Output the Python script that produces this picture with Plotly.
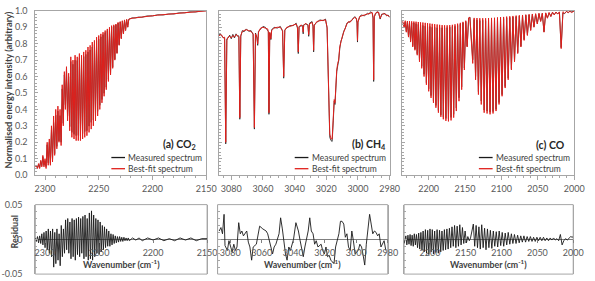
import plotly.graph_objects as go

# ---------------- data: (a) CO2 ----------------
co2_wn = [2309, 2308, 2307, 2306, 2305, 2304, 2303, 2302, 2301, 2300,
          2299, 2298, 2297, 2296, 2295, 2294, 2293, 2292, 2291, 2290,
          2289, 2288, 2287, 2286, 2285, 2284, 2283, 2282, 2281, 2280,
          2279, 2278, 2277, 2276, 2275, 2274, 2273, 2272, 2271, 2270,
          2269, 2268, 2267, 2266, 2265, 2264, 2263, 2262, 2261, 2260,
          2259, 2258, 2257, 2256, 2255, 2254, 2253, 2252, 2251, 2250,
          2249, 2248, 2247, 2246, 2245, 2244, 2243, 2242, 2241, 2240,
          2239, 2238, 2237, 2236, 2235, 2234, 2233, 2232, 2231, 2230,
          2229, 2228, 2227, 2226, 2225, 2224, 2223, 2222,
          2219, 2216, 2213, 2210, 2205, 2200, 2195, 2190, 2185, 2180, 2175, 2170, 2165, 2160, 2155, 2150]
co2_fit = [0.05, 0.06, 0.04, 0.07, 0.04, 0.09, 0.05, 0.12, 0.05, 0.10,
           0.04, 0.20, 0.06, 0.22, 0.06, 0.30, 0.08, 0.36, 0.12, 0.40,
           0.16, 0.42, 0.20, 0.40, 0.18, 0.55, 0.30, 0.63, 0.40, 0.66,
           0.33, 0.62, 0.27, 0.72, 0.23, 0.70, 0.22, 0.73, 0.21, 0.72,
           0.21, 0.74, 0.21, 0.73, 0.22, 0.75, 0.23, 0.76, 0.24, 0.78,
           0.26, 0.79, 0.28, 0.81, 0.30, 0.82, 0.33, 0.84, 0.36, 0.85,
           0.40, 0.86, 0.44, 0.87, 0.48, 0.88, 0.52, 0.89, 0.57, 0.90,
           0.61, 0.91, 0.65, 0.915, 0.70, 0.92, 0.74, 0.93, 0.79, 0.935,
           0.83, 0.94, 0.86, 0.945, 0.88, 0.948, 0.90, 0.95,
           0.955, 0.958, 0.96, 0.963, 0.967, 0.97, 0.974, 0.977, 0.98, 0.983, 0.986, 0.989, 0.992, 0.995, 0.998, 1.0]
co2_res = [0.002, -0.003, 0.004, -0.005, 0.005, -0.006, 0.008, -0.008, 0.010, -0.012,
           0.012, -0.015, 0.015, -0.020, 0.012, -0.025, 0.015, -0.040, 0.010, -0.035,
           0.015, -0.030, 0.008, -0.038, 0.020, -0.025, 0.015, -0.020, 0.028, -0.015,
           0.030, -0.020, 0.025, -0.028, 0.030, -0.025, 0.028, -0.030, 0.030, -0.022,
           0.032, -0.025, 0.030, -0.020, 0.033, -0.028, 0.035, -0.025, 0.030, -0.030,
           0.038, -0.028, 0.041, -0.030, 0.035, -0.025, 0.030, -0.020, 0.028, -0.022,
           0.025, -0.018, 0.020, -0.015, 0.018, -0.012, 0.015, -0.010, 0.012, -0.010,
           0.008, -0.008, 0.007, -0.006, 0.005, -0.005, 0.004, -0.004, 0.004, -0.003,
           0.003, -0.003, 0.003, -0.002, 0.002, -0.002, 0.002, -0.002,
           0.002, -0.001, 0.002, -0.002, 0.002, -0.001, 0.002, -0.002, 0.001, -0.002, 0.002, -0.001, 0.002, -0.002, 0.001, 0.001]
co2_ticks = [2300, 2250, 2200, 2150]

# ---------------- data: (b) CH4 ----------------
ch4_wn = [3088.0, 3087.0, 3086.0, 3085.0, 3084.2, 3083.5, 3082.8, 3082.0, 3081.0, 3080.0,
          3079.0, 3078.0, 3077.0, 3076.0, 3075.2, 3074.6, 3074.0, 3073.0, 3072.0, 3070.5,
          3069.0, 3067.5, 3066.2, 3065.4, 3064.7, 3063.8, 3063.3, 3062.8, 3061.5, 3060.0,
          3058.5, 3057.0, 3056.6, 3056.2, 3055.7, 3055.0, 3054.5, 3053.0, 3051.0, 3049.0,
          3047.6, 3046.9, 3046.2, 3045.0, 3043.0, 3041.0, 3039.0, 3038.2, 3037.7, 3037.2,
          3036.0, 3034.9, 3034.6, 3034.3, 3033.0, 3031.6, 3031.1, 3030.6, 3029.0, 3028.4,
          3028.0, 3027.6, 3026.0, 3024.0, 3022.0, 3020.5, 3019.5, 3018.6, 3017.8, 3017.0,
          3016.3, 3015.6, 3015.0, 3014.5, 3014.0, 3013.4, 3012.8, 3012.2, 3011.5, 3010.8,
          3010.0, 3009.0, 3008.0, 3007.0, 3006.0, 3005.0, 3004.0, 3003.0, 3002.0, 3001.0,
          3000.6, 3000.3, 3000.0, 2999.0, 2998.0, 2996.0, 2994.0, 2993.0, 2992.0, 2991.0,
          2990.5, 2990.1, 2989.7, 2989.0, 2988.0, 2987.0, 2986.5, 2986.0, 2985.0, 2984.0,
          2983.0, 2982.0, 2981.0, 2980.0]
ch4_fit = [0.845, 0.855, 0.852, 0.835, 0.84, 0.20, 0.82, 0.84, 0.845, 0.835,
           0.85, 0.84, 0.855, 0.85, 0.84, 0.35, 0.85, 0.875, 0.88, 0.885,
           0.88, 0.875, 0.86, 0.29, 0.86, 0.84, 0.80, 0.87, 0.895, 0.90,
           0.895, 0.89, 0.87, 0.38, 0.87, 0.83, 0.88, 0.895, 0.90, 0.90,
           0.88, 0.60, 0.88, 0.90, 0.905, 0.915, 0.92, 0.90, 0.75, 0.90,
           0.915, 0.905, 0.87, 0.91, 0.925, 0.91, 0.855, 0.92, 0.93, 0.91,
           0.76, 0.91, 0.935, 0.94, 0.945, 0.945, 0.90, 0.55, 0.25, 0.22,
           0.22, 0.35, 0.46, 0.44, 0.58, 0.64, 0.68, 0.70, 0.78, 0.82,
           0.84, 0.87, 0.90, 0.92, 0.935, 0.93, 0.945, 0.95, 0.96, 0.955,
           0.93, 0.82, 0.93, 0.965, 0.97, 0.975, 0.98, 0.985, 0.99, 0.99,
           0.96, 0.58, 0.96, 0.985, 0.99, 0.992, 0.97, 0.955, 0.975, 0.985,
           0.98, 0.975, 0.97, 0.965]
ch4_meas = [0.85, 0.862, 0.845, 0.84, 0.832, 0.19, 0.83, 0.835, 0.852, 0.83,
            0.857, 0.835, 0.86, 0.845, 0.848, 0.34, 0.845, 0.88, 0.872, 0.89,
            0.875, 0.88, 0.855, 0.28, 0.865, 0.835, 0.79, 0.875, 0.89, 0.905,
            0.90, 0.885, 0.875, 0.37, 0.865, 0.825, 0.885, 0.90, 0.895, 0.905,
            0.875, 0.59, 0.885, 0.895, 0.91, 0.91, 0.925, 0.895, 0.74, 0.905,
            0.91, 0.91, 0.86, 0.915, 0.92, 0.915, 0.845, 0.925, 0.935, 0.905,
            0.75, 0.915, 0.93, 0.945, 0.94, 0.95, 0.895, 0.53, 0.23, 0.21,
            0.205, 0.33, 0.45, 0.43, 0.56, 0.63, 0.665, 0.695, 0.77, 0.815,
            0.835, 0.875, 0.895, 0.925, 0.93, 0.935, 0.94, 0.955, 0.965, 0.95,
            0.925, 0.81, 0.935, 0.96, 0.975, 0.97, 0.985, 0.98, 0.995, 0.985,
            0.955, 0.57, 0.965, 0.98, 0.995, 0.99, 0.975, 0.95, 0.98, 0.98,
            0.985, 0.97, 0.975, 0.96]
ch4_res_wn = [3087.0, 3085.9, 3084.9, 3083.9, 3083.3, 3081.8, 3080.8, 3079.8, 3078.8, 3077.7,
              3076.7, 3075.7, 3074.6, 3073.6, 3072.6, 3071.6, 3069.5, 3068.5, 3067.5, 3066.4,
              3065.4, 3063.4, 3062.3, 3061.3, 3059.3, 3057.2, 3056.2, 3055.1, 3054.1, 3053.1,
              3052.1, 3051.0, 3049.0, 3048.0, 3046.9, 3045.9, 3044.9, 3043.9, 3042.8, 3041.8,
              3039.8, 3038.3, 3036.7, 3035.6, 3034.6, 3033.6, 3032.6, 3030.5, 3029.5, 3028.5,
              3027.4, 3026.4, 3025.4, 3024.3, 3022.3, 3021.3, 3020.2, 3019.2, 3018.2, 3017.2,
              3016.1, 3015.1, 3014.1, 3013.1, 3012.0, 3011.0, 3010.0, 3009.0, 3007.9, 3006.9,
              3005.9, 3004.9, 3003.8, 3002.8, 3001.8, 3000.7, 2999.7, 2998.7, 2997.7, 2996.6,
              2995.6, 2994.6, 2993.6, 2992.5, 2991.5, 2990.5, 2989.5, 2988.4, 2987.4, 2986.4,
              2985.4, 2984.3, 2983.3, 2982.3, 2981.2]
ch4_res = [0.012, 0.017, 0.008, 0.036, -0.009, -0.016, -0.002, -0.011, -0.018, -0.007,
           -0.016, -0.011, 0.024, 0.008, 0.012, 0.005, 0.012, -0.004, -0.011, -0.030,
           -0.011, -0.007, 0.008, 0.019, 0.015, 0.012, 0.008, -0.002, -0.011, -0.021,
           -0.011, -0.007, 0.008, 0.031, 0.015, -0.007, -0.021, -0.030, -0.011, -0.016,
           0.000, 0.024, 0.012, -0.002, -0.016, -0.025, -0.011, 0.012, 0.031, 0.012,
           0.008, -0.007, -0.002, -0.011, -0.007, -0.016, -0.021, -0.011, -0.025, -0.023,
           -0.030, -0.032, -0.035, -0.011, -0.002, 0.008, 0.026, 0.026, 0.022, 0.003,
           0.008, -0.011, -0.016, 0.012, -0.002, -0.021, -0.018, -0.016, -0.007, -0.011,
           -0.023, -0.037, -0.007, 0.012, 0.036, 0.022, 0.008, 0.012, 0.010, 0.005,
           0.008, -0.011, -0.007, -0.002, -0.016]
ch4_ticks = [3080, 3060, 3040, 3020, 3000, 2980]

# ---------------- data: (c) CO ----------------
co_wn = [2236.0, 2233.6, 2232.2, 2230.7, 2229.2, 2227.7, 2226.3, 2224.8, 2223.3, 2221.8,
         2220.3, 2218.8, 2217.3, 2215.7, 2214.2, 2212.6, 2211.1, 2209.5, 2207.9, 2206.3,
         2204.7, 2203.1, 2201.5, 2199.9, 2198.3, 2196.7, 2195.1, 2193.4, 2191.7, 2190.0,
         2188.3, 2186.6, 2184.9, 2183.2, 2181.5, 2179.8, 2178.1, 2176.3, 2174.6, 2172.8,
         2171.0, 2169.2, 2167.4, 2165.6, 2163.8, 2162.0, 2160.2, 2158.3, 2156.5, 2154.6,
         2152.8, 2150.9, 2149.0, 2147.1, 2145.0, 2143.3, 2139.4, 2137.5, 2135.5, 2133.6,
         2131.6, 2129.7, 2127.7, 2125.7, 2123.7, 2121.7, 2119.7, 2117.7, 2115.6, 2113.6,
         2111.5, 2109.5, 2107.4, 2105.4, 2103.3, 2101.2, 2099.1, 2097.0, 2094.9, 2092.8,
         2090.7, 2088.5, 2086.3, 2084.2, 2082.0, 2079.8, 2077.6, 2075.4, 2073.2, 2071.0,
         2068.8, 2066.5, 2064.3, 2062.0, 2059.8, 2057.5, 2055.3, 2053.0, 2050.7, 2048.4,
         2046.1, 2043.8, 2041.5, 2039.2, 2036.8, 2034.5, 2032.1, 2029.8, 2027.4, 2025.0,
         2022.7, 2020.3, 2017.9, 2015.5, 2013.1, 2010.7, 2008.3, 2005.8, 2003.4, 2001.5,
         2000.0]
co_fit = [0.94, 0.90, 0.94, 0.87, 0.938, 0.84, 0.937, 0.81, 0.936, 0.78,
          0.935, 0.76, 0.934, 0.73, 0.932, 0.69, 0.93, 0.65, 0.929, 0.60,
          0.927, 0.55, 0.925, 0.51, 0.923, 0.47, 0.921, 0.44, 0.919, 0.41,
          0.917, 0.38, 0.915, 0.355, 0.913, 0.34, 0.912, 0.33, 0.912, 0.327,
          0.913, 0.333, 0.915, 0.35, 0.918, 0.39, 0.922, 0.45, 0.927, 0.52,
          0.933, 0.64, 0.94, 0.78, 0.958, 0.96, 0.68, 0.957, 0.58, 0.956,
          0.49, 0.955, 0.43, 0.955, 0.38, 0.955, 0.375, 0.956, 0.37, 0.957,
          0.375, 0.958, 0.39, 0.96, 0.43, 0.962, 0.48, 0.963, 0.53, 0.965,
          0.58, 0.967, 0.64, 0.969, 0.69, 0.971, 0.74, 0.973, 0.78, 0.975,
          0.82, 0.977, 0.85, 0.979, 0.88, 0.981, 0.90, 0.983, 0.92, 0.985,
          0.935, 0.986, 0.87, 0.988, 0.955, 0.99, 0.965, 0.992, 0.975, 0.993,
          0.98, 0.994, 0.77, 0.995, 0.985, 0.996, 0.99, 0.997, 0.99, 0.998,
          0.999]
co_res = [-0.006, 0.005, -0.008, 0.006, -0.007, 0.007, -0.009, 0.006, -0.010, 0.008,
          -0.008, 0.007, -0.012, 0.009, -0.014, 0.010, -0.016, 0.012, -0.018, 0.014,
          -0.020, 0.013, -0.022, 0.015, -0.018, 0.014, -0.021, 0.012, -0.019, 0.014,
          -0.020, 0.013, -0.018, 0.012, -0.016, 0.014, -0.015, 0.015, -0.014, 0.016,
          -0.012, 0.018, -0.010, 0.020, -0.012, 0.019, -0.010, 0.021, -0.008, 0.017,
          -0.006, 0.012, -0.005, 0.004, -0.002, 0.002, 0.022, -0.010, 0.020, -0.012,
          0.018, -0.014, 0.021, -0.012, 0.016, -0.015, 0.015, -0.012, 0.013, -0.013,
          0.012, -0.010, 0.011, -0.011, 0.012, -0.009, 0.010, -0.010, 0.009, -0.008,
          0.010, -0.007, 0.008, -0.006, 0.007, -0.006, 0.006, -0.005, 0.005, -0.004,
          0.005, -0.004, 0.004, -0.003, 0.004, -0.003, 0.003, -0.003, 0.003, -0.002,
          0.003, -0.002, 0.003, -0.002, 0.002, -0.002, 0.002, -0.001, 0.002, -0.001,
          0.001, -0.002, 0.007, -0.008, -0.002, 0.001, -0.001, 0.002, 0.004, 0.003,
          0.004]
co_ticks = [2200, 2150, 2100, 2050, 2000]

# measured = best fit + residual (residual defined as measured - fit)
co2_meas = [f + r for f, r in zip(co2_fit, co2_res)]
co_meas = [f + r for f, r in zip(co_fit, co_res)]

# ---------------- styling ----------------
FONT = "Lato, Arial, sans-serif"
TXT = "#404040"
AX = "#a6a6a6"
BLACK = "#1a1a1a"
RED = "#e0201c"

top_dom_y = [0.3737, 0.982]
res_dom_y = [0.0071, 0.2644]
zero_pos = (res_dom_y[0] + res_dom_y[1]) / 2
x_doms = [[0.0588, 0.3513], [0.3726, 0.6655], [0.6874, 0.9815]]
res_x_doms = [[0.0588, 0.3529], [0.3709, 0.6622], [0.6903, 0.9798]]

panels = [
    dict(wn=co2_wn, fit=co2_fit, meas=co2_meas, rwn=co2_wn, res=co2_res,
         rng=[2309, 2150], ticks=co2_ticks, minor=10, label="(a) CO<sub>2</sub>", lx=0.952),
    dict(wn=ch4_wn, fit=ch4_fit, meas=ch4_meas, rwn=ch4_res_wn, res=ch4_res,
         rng=[3088, 2980], ticks=ch4_ticks, minor=5, label="(b) CH<sub>4</sub>", lx=0.99),
    dict(wn=co_wn, fit=co_fit, meas=co_meas, rwn=co_wn, res=co_res,
         rng=[2236, 2000], ticks=co_ticks, minor=10, label="(c) CO", lx=0.958),
]

fig = go.Figure()
layout = dict(width=595, height=281, margin=dict(l=0, r=0, t=0, b=0),
              paper_bgcolor="white", plot_bgcolor="white", showlegend=False,
              font=dict(family=FONT, color=TXT, size=9))
shapes = []
annotations = []

for i, p in enumerate(panels):
    k = i + 1
    r = i + 4
    xs, ys = ("x" if k == 1 else f"x{k}"), ("y" if k == 1 else f"y{k}")
    xr, yr = f"x{r}", f"y{r}"
    fig.add_trace(go.Scatter(x=p["wn"], y=p["meas"], mode="lines", name="Measured spectrum",
                             line=dict(color=BLACK, width=0.8), xaxis=xs, yaxis=ys))
    fig.add_trace(go.Scatter(x=p["wn"], y=p["fit"], mode="lines", name="Best-fit spectrum",
                             line=dict(color=RED, width=1), xaxis=xs, yaxis=ys))
    fig.add_trace(go.Scatter(x=p["rwn"], y=p["res"], mode="lines", name="Residual",
                             line=dict(color=BLACK, width=0.9), xaxis=xr, yaxis=yr))

    tickfont = dict(size=9, color="#595959", family=FONT)
    layout[f"xaxis{'' if k == 1 else k}"] = dict(
        domain=x_doms[i], range=p["rng"], anchor=ys, tickvals=p["ticks"],
        ticks="outside", ticklen=4, tickcolor=AX,
        minor=dict(dtick=p["minor"], ticks="outside", ticklen=2, tickcolor=AX),
        showline=True, linecolor=AX, linewidth=1, mirror=True,
        showgrid=False, zeroline=False, tickfont=tickfont, ticklabelstandoff=1)
    layout[f"yaxis{'' if k == 1 else k}"] = dict(
        domain=top_dom_y, range=[0, 1], anchor=xs, dtick=0.1, tickformat=".1f",
        ticks="inside", ticklen=3, tickcolor=AX,
        minor=dict(dtick=0.02, ticks="inside", ticklen=2, tickcolor=AX),
        showticklabels=(k == 1), showline=True, linecolor=AX, linewidth=1, mirror=True,
        showgrid=False, zeroline=False, tickfont=tickfont, ticklabelstandoff=5)
    layout[f"xaxis{r}"] = dict(
        domain=res_x_doms[i], range=p["rng"], anchor="free", position=zero_pos,
        tickvals=p["ticks"], ticks="outside", ticklen=3, tickcolor="#808080",
        showline=False, showgrid=False, zeroline=False, tickfont=tickfont, ticklabelstandoff=2)
    layout[f"yaxis{r}"] = dict(
        domain=res_dom_y, range=[-0.05, 0.05], anchor=xr,
        tickvals=[-0.05, 0, 0.05], ticktext=["-0.05", "0", "0.05"],
        ticks="inside", ticklen=3, tickcolor=AX,
        minor=dict(dtick=0.01, ticks="inside", ticklen=2, tickcolor=AX),
        showticklabels=(k == 1), showline=True, linecolor=AX, mirror=True,
        showgrid=False, zeroline=True, zerolinecolor="#7f7f7f", zerolinewidth=1,
        tickfont=tickfont, ticklabelstandoff=10)
    shapes.append(dict(type="rect", xref=f"{xr} domain", yref=f"{yr} domain",
                       x0=0, x1=1, y0=0, y1=1, line=dict(color=AX, width=1), layer="below"))

    # panel label
    annotations.append(dict(text=f"<b>{p['label']}</b>", xref=f"{xs} domain", yref=f"{ys} domain",
                            x=p["lx"], y=0.183, xanchor="right", yanchor="middle", showarrow=False,
                            font=dict(size=10.5, color="#262626", family=FONT)))
    # legend (drawn per panel)
    for yy, col, name in [(0.107, BLACK, "Measured spectrum"), (0.039, RED, "Best-fit spectrum")]:
        shapes.append(dict(type="line", xref=f"{xs} domain", yref=f"{ys} domain",
                           x0=0.445, x1=0.525, y0=yy, y1=yy, line=dict(color=col, width=1.3)))
        annotations.append(dict(text=name, xref=f"{xs} domain", yref=f"{ys} domain",
                                x=0.532, y=yy, xanchor="left", yanchor="middle", showarrow=False,
                                font=dict(size=8.5, color=TXT, family=FONT)))
    # x title for residual panels
    annotations.append(dict(text="<b>Wavenumber (cm<sup>-1</sup>)</b>", xref=f"{xr} domain", yref="paper",
                            x=0.5, y=1 - 269 / 281, xanchor="center", yanchor="middle", showarrow=False,
                            font=dict(size=8.8, color=TXT, family=FONT)))

annotations.append(dict(text="<b>Normalised energy intensity (arbitrary)</b>", xref="paper", yref="paper",
                        x=8 / 595, y=1 - 87 / 281, textangle=-90, xanchor="center", yanchor="middle",
                        showarrow=False, font=dict(size=9.2, color=TXT, family=FONT)))
annotations.append(dict(text="<b>Residual</b>", xref="paper", yref="paper",
                        x=14 / 595, y=1 - 235 / 281, textangle=-90, xanchor="center", yanchor="middle",
                        showarrow=False, font=dict(size=9, color=TXT, family=FONT)))

layout["shapes"] = shapes
layout["annotations"] = annotations
fig.update_layout(**layout)
fig.write_html("out.html")
